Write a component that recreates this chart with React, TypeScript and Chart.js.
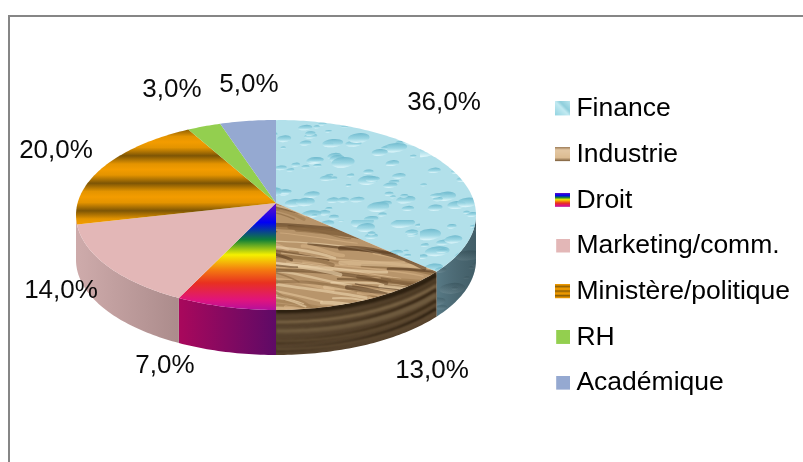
import React, { useEffect, useRef } from "react";
import { Chart, registerables } from "chart.js";

Chart.register(...registerables);

const categories = ["Finance", "Industrie", "Droit", "Marketing/comm.", "Ministère/politique", "RH", "Académique"];
const shares = [36, 13, 7, 14, 20, 3, 5];
const labelCenters = [[444, 103], [432, 371], [165, 366], [61, 291], [56, 151], [172, 90], [249, 85]];

// Pie projection seen in the picture
const APEX_X = 276, APEX_Y = 203, PERSP = 0.126, SCALE_X = 198.4, SCALE_Y = 93.5, DEPTH = 45;
const FONT = '26px "Liberation Sans", Arial, sans-serif';

function rim(theta: number, drop = 0): [number, number] {
  // theta: chart.js angle (0 = 3 o'clock, clockwise)
  const u = Math.cos(theta);
  const v = Math.sin(theta);
  const w = 1 - PERSP * v;
  return [APEX_X + (SCALE_X * u) / w, APEX_Y + (SCALE_Y * v) / w + drop];
}

function seeded(seed: number) {
  let s = seed;
  return () => {
    s = (s * 1664525 + 1013904223) % 4294967296;
    return s / 4294967296;
  };
}

function softened(src: HTMLCanvasElement, blur: number): HTMLCanvasElement {
  const c = document.createElement("canvas");
  c.width = src.width;
  c.height = src.height;
  const g = c.getContext("2d")!;
  g.filter = `blur(${blur}px)`;
  g.drawImage(src, 0, 0);
  g.filter = "none";
  return c;
}

function waterTexture(dark: boolean): HTMLCanvasElement {
  const c = document.createElement("canvas");
  c.width = 420;
  c.height = 220;
  const g = c.getContext("2d")!;
  g.fillStyle = dark ? "#587a86" : "#b2e0ea";
  g.fillRect(0, 0, c.width, c.height);
  const r = seeded(17);
  for (let i = 0; i < 430; i++) {
    const x = r() * c.width, y = r() * c.height;
    const big = r();
    const rx = big > 0.965 ? 13 + r() * 8 : big > 0.75 ? 7 + r() * 6 : 2.5 + r() * 5;
    const ry = rx * (0.34 + r() * 0.14);
    const grad = g.createLinearGradient(x, y - ry, x, y + ry);
    if (dark) {
      grad.addColorStop(0, "rgba(60,90,100,.55)");
      grad.addColorStop(1, "rgba(120,150,160,.55)");
    } else {
      grad.addColorStop(0, "rgba(110,185,205,.95)");
      grad.addColorStop(0.55, "rgba(150,212,226,.8)");
      grad.addColorStop(1, "rgba(226,248,252,.95)");
    }
    g.fillStyle = grad;
    g.beginPath();
    g.ellipse(x, y, rx, ry, -0.1, 0, Math.PI * 2);
    g.fill();
    if (!dark && big > 0.965) {
      g.fillStyle = "rgba(245,253,255,.9)";
      g.beginPath();
      g.ellipse(x - rx * 0.65, y + ry * 0.1, 1.6, ry * 0.55, 0.3, 0, Math.PI * 2);
      g.fill();
    }
  }
  return softened(c, 0.6);
}

function woodTexture(): HTMLCanvasElement {
  const c = document.createElement("canvas");
  c.width = 260;
  c.height = 170;
  const g = c.getContext("2d")!;
  g.fillStyle = "#b8956b";
  g.fillRect(0, 0, c.width, c.height);
  const r = seeded(5);
  const tones = ["#6b4c2c", "#5a3e22", "#8a6942", "#e2c49a", "#ecd3ac", "#d5b286", "#a07c52"];
  for (let i = 0; i < 190; i++) {
    const x = r() * (c.width + 60) - 60, y = r() * c.height - 15;
    const len = 35 + r() * 90;
    g.strokeStyle = tones[Math.floor(r() * tones.length)];
    g.globalAlpha = 0.62;
    g.lineWidth = 1 + r() * 3.6;
    g.lineCap = "round";
    g.beginPath();
    g.moveTo(x, y);
    g.bezierCurveTo(x + len * 0.3, y + 7 * r() - 2, x + len * 0.7, y + 12 * r(), x + len, y + 8 + 12 * r());
    g.stroke();
  }
  g.globalAlpha = 1;
  return softened(c, 0.7);
}

function verticalGradient(ctx: CanvasRenderingContext2D, y0: number, y1: number, stops: [number, string][]) {
  const grad = ctx.createLinearGradient(0, y0, 0, y1);
  stops.forEach(([p, col]) => grad.addColorStop(p, col));
  return grad;
}

const rainbowStops: [number, string][] = [
  [0, "#6a12c4"], [0.18, "#0000f5"], [0.34, "#108038"], [0.48, "#f5f000"], [0.62, "#f47a10"], [0.74, "#e83020"], [0.9, "#e0147e"], [1, "#b010a0"],
];

function stripeGradient(ctx: CanvasRenderingContext2D, y0: number, period: number, n: number) {
  const grad = ctx.createLinearGradient(0, y0, 0, y0 + period * n);
  for (let i = 0; i < n; i++) {
    grad.addColorStop(i / n, "#f39c00");
    grad.addColorStop((i + 0.2) / n, "#e49400");
    grad.addColorStop((i + 0.5) / n, "#7d5505");
    grad.addColorStop((i + 0.8) / n, "#e49400");
  }
  grad.addColorStop(1, "#f39c00");
  return grad;
}

// Wood grain on the rim: each band is [drop below the top edge, tone, width]
const woodBands: [number, string, number][] = [
  [3, "#2d2010", 5], [9, "#4c3a24", 4], [14, "#7a6445", 3], [18, "#362614", 3], [23, "#6e5a3e", 5],
  [29, "#3a2a16", 3], [33, "#5f4b32", 3], [37, "#2c1f10", 3], [41, "#5c4830", 4],
];

function legendSwatch(fill: (g: CanvasRenderingContext2D) => void, x = 0, w = 15): HTMLCanvasElement {
  const c = document.createElement("canvas");
  c.width = 15;
  c.height = 15;
  const g = c.getContext("2d")!;
  g.save();
  g.beginPath();
  g.rect(x, 0, w, 14);
  g.clip();
  fill(g);
  g.restore();
  return c;
}

export default function App() {
  const ref = useRef<HTMLCanvasElement>(null);
  useEffect(() => {
    document.body.style.margin = "0";
    const canvas = ref.current!;
    const ctx = canvas.getContext("2d")!;

    const waterTop = ctx.createPattern(waterTexture(false), "repeat")!;
    const waterSide = ctx.createPattern(waterTexture(true), "repeat")!;
    const woodTop = ctx.createPattern(woodTexture(), "repeat")!;

    const sideGrad = (a: string, b: string, x0: number, x1: number) => {
      const g = ctx.createLinearGradient(x0, 0, x1, 0);
      g.addColorStop(0, a);
      g.addColorStop(1, b);
      return g;
    };

    const marketingSide = sideGrad("#cdaaaa", "#ab8b8b", 80, 180);
    const topFills: (string | CanvasGradient | CanvasPattern)[] = [
      waterTop,
      woodTop,
      verticalGradient(ctx, 203, 311, rainbowStops),
      "#e3b7b7",
      stripeGradient(ctx, 114.5, 27.5, 5),
      "#93cf4f",
      "#95a9d1",
    ];
    const sideFills: (string | CanvasGradient | CanvasPattern)[] = [
      waterSide,
      "#55422c",
      sideGrad("#a8085c", "#5e0a66", 180, 276),
      marketingSide,
      marketingSide,
      "#6f9a3a",
      "#6f7f9e",
    ];
    const financeShade = sideGrad("rgba(0,0,0,0)", "rgba(20,35,40,.32)", 436, 476);

    const swatches = [
      legendSwatch((g) => {
        const gr = g.createLinearGradient(0, 15, 15, 0);
        gr.addColorStop(0, "#8fd3e0");
        gr.addColorStop(0.5, "#c3eaf2");
        gr.addColorStop(0.65, "#8fcfdc");
        gr.addColorStop(1, "#b9e6ef");
        g.fillStyle = gr;
        g.fillRect(0, 0, 15, 15);
      }),
      legendSwatch((g) => {
        g.fillStyle = verticalGradient(g, 0, 14, [[0, "#9c7c58"], [0.2, "#e4c8a4"], [0.75, "#dcbc92"], [1, "#7a5c3a"]]);
        g.fillRect(0, 0, 15, 15);
      }),
      legendSwatch((g) => {
        g.fillStyle = verticalGradient(g, 0, 14, rainbowStops);
        g.fillRect(0, 0, 15, 15);
      }),
      legendSwatch((g) => {
        g.fillStyle = "#e3b7b7";
        g.fillRect(0, 0, 15, 15);
      }, 1, 14),
      legendSwatch((g) => {
        g.fillStyle = stripeGradient(g, 0, 4.6, 3);
        g.fillRect(0, 0, 15, 15);
      }),
      legendSwatch((g) => {
        g.fillStyle = "#93cf4f";
        g.fillRect(0, 0, 15, 15);
      }, 1, 14),
      legendSwatch((g) => {
        g.fillStyle = "#95a9d1";
        g.fillRect(0, 0, 15, 15);
      }, 1, 14),
    ];

    const pie3d = {
      id: "pie3d",
      beforeDraw(chart: any) {
        const c = chart.ctx;
        c.save();
        c.fillStyle = "#ffffff";
        c.fillRect(0, 0, chart.width, chart.height);
        c.fillStyle = "#868686";
        c.fillRect(8, 15, chart.width - 8, 2);
        c.fillRect(8, 15, 2, chart.height - 15);
        c.restore();
      },
      beforeDatasetDraw(chart: any) {
        const c = chart.ctx;
        const arcs = chart.getDatasetMeta(0).data;
        const step = Math.PI / 180;
        const TAU = Math.PI * 2;
        c.save();
        // side wall: only the part that faces the viewer
        const vis0 = Math.asin(PERSP);
        const vis1 = Math.PI - vis0;
        arcs.forEach((arc: any, i: number) => {
          const a0 = arc.startAngle, a1 = arc.endAngle;
          [-TAU, 0, TAU].forEach((shift) => {
            const s = Math.max(a0, vis0 + shift), e = Math.min(a1, vis1 + shift);
            if (e <= s) return;
            const n = Math.max(2, Math.ceil((e - s) / step));
            const at = (k: number) => s + ((e - s) * k) / n;
            c.save();
            c.beginPath();
            for (let k = 0; k <= n; k++) {
              const [x, y] = rim(at(k));
              k ? c.lineTo(x, y) : c.moveTo(x, y);
            }
            for (let k = n; k >= 0; k--) {
              const [x, y] = rim(at(k), DEPTH);
              c.lineTo(x, y);
            }
            c.closePath();
            c.fillStyle = sideFills[i];
            c.fill();
            if (i === 0) {
              c.fillStyle = financeShade;
              c.fill();
            }
            if (i === 1) {
              c.clip();
              c.filter = "blur(1px)";
              woodBands.forEach(([d, tone, width], b) => {
                c.beginPath();
                for (let k = 0; k <= n; k++) {
                  const wave = (k / n) * (b % 2 ? 3 : -2);
                  const [x, y] = rim(at(k), d + wave);
                  k ? c.lineTo(x, y) : c.moveTo(x, y);
                }
                c.strokeStyle = tone;
                c.lineWidth = width;
                c.stroke();
              });
              c.filter = "none";
            }
            c.restore();
          });
        });
        // top face
        arcs.forEach((arc: any, i: number) => {
          const s = arc.startAngle, e = arc.endAngle;
          const n = Math.max(2, Math.ceil((e - s) / step));
          c.beginPath();
          c.moveTo(APEX_X, APEX_Y);
          for (let k = 0; k <= n; k++) {
            const [x, y] = rim(s + ((e - s) * k) / n);
            c.lineTo(x, y);
          }
          c.closePath();
          c.fillStyle = topFills[i];
          c.fill();
        });
        c.restore();
        return false;
      },
      afterDatasetsDraw(chart: any) {
        const c = chart.ctx;
        const vals: number[] = chart.data.datasets[0].data;
        c.save();
        c.font = FONT;
        c.fillStyle = "#0a0a0a";
        c.textAlign = "center";
        c.textBaseline = "middle";
        vals.forEach((v, i) => {
          c.fillText(v.toFixed(1).replace(".", ",") + "%", labelCenters[i][0], labelCenters[i][1]);
        });
        c.restore();
      },
    };

    const chart = new Chart(canvas, {
      type: "pie",
      data: {
        labels: categories,
        datasets: [{ data: shares, backgroundColor: "#95a9d1", borderWidth: 0 }],
      },
      options: {
        animation: false,
        responsive: false,
        layout: { padding: { top: 30, right: 3 } },
        plugins: {
          tooltip: { enabled: false },
          legend: {
            position: "right",
            align: "center",
            labels: {
              font: { size: 26.5, family: '"Liberation Sans", Arial, sans-serif' },
              color: "#0a0a0a",
              usePointStyle: true,
              pointStyleWidth: 1,
              boxHeight: 15,
              padding: 19.2,
              generateLabels: () =>
                categories.map((text, i) => ({
                  text,
                  pointStyle: swatches[i],
                  fillStyle: "transparent",
                  strokeStyle: "transparent",
                  lineWidth: 0,
                  hidden: false,
                  index: i,
                })),
            },
          },
        },
      } as any,
      plugins: [pie3d as any],
    });
    return () => chart.destroy();
  }, []);
  return <canvas ref={ref} width={803} height={462} style={{ display: "block", width: 803, height: 462 }} />;
}
